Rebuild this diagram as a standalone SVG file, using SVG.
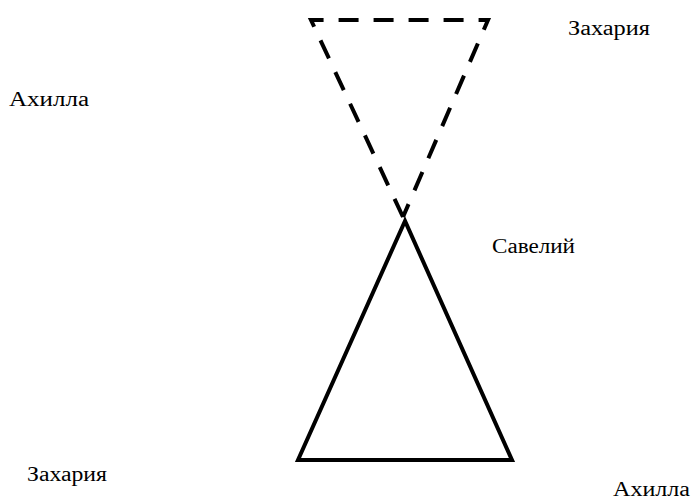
<svg xmlns="http://www.w3.org/2000/svg" width="692" height="500" viewBox="0 0 692 500">
<style>
.lbl{font-family:"Liberation Serif","DejaVu Serif",serif;font-size:20px;fill:#000}
.dash{fill:none;stroke:#000;stroke-width:4;stroke-dasharray:20 15;stroke-linejoin:miter}
.solid{fill:none;stroke:#000;stroke-width:4;stroke-linejoin:miter}
</style>
<rect width="692" height="500" fill="#fff"/>
<g id="connectors">
<path class="dash" d="M403 217 L311 20 L488 20 L403 217"/>
<path class="solid" d="M405 221 L298 460 L512 460 Z"/>
</g>
<g id="n1"><text class="lbl" x="9" y="106" textLength="80" lengthAdjust="spacingAndGlyphs">Ахилла</text></g>
<g id="n2"><text class="lbl" x="568" y="35" textLength="82" lengthAdjust="spacingAndGlyphs">Захария</text></g>
<g id="n3"><text class="lbl" x="492" y="253" textLength="83" lengthAdjust="spacingAndGlyphs">Савелий</text></g>
<g id="n4"><text class="lbl" x="27" y="481" textLength="80" lengthAdjust="spacingAndGlyphs">Захария</text></g>
<g id="n5"><text class="lbl" x="613" y="496" textLength="77" lengthAdjust="spacingAndGlyphs">Ахилла</text></g>
</svg>
